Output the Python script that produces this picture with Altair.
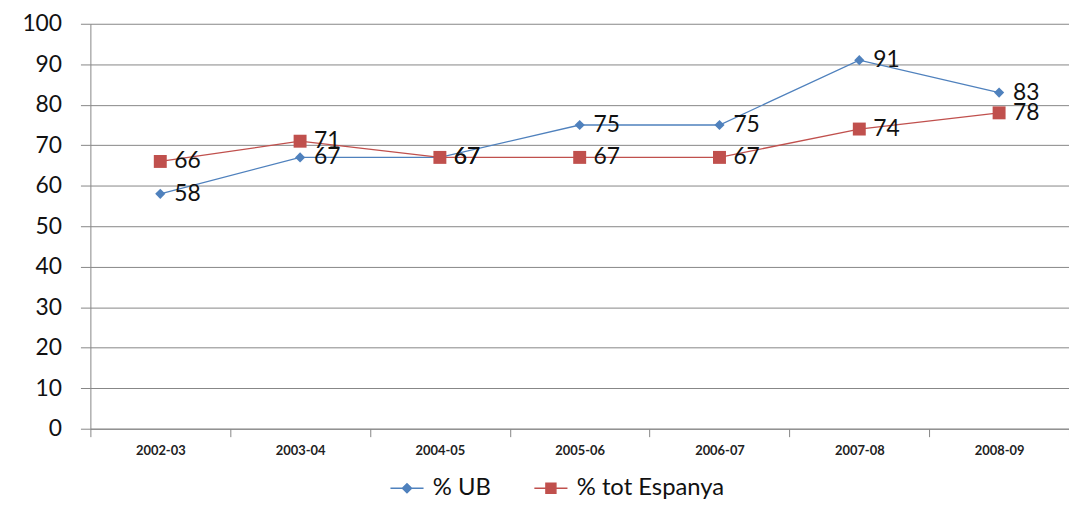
import altair as alt
import pandas as pd

years = ["2002-03", "2003-04", "2004-05", "2005-06", "2006-07", "2007-08", "2008-09"]
ub = [58, 67, 67, 75, 75, 91, 83]
esp = [66, 71, 67, 67, 67, 74, 78]
series_names = ["% UB", "% tot Espanya"]
colors = ["#4F81BD", "#C0504D"]
shapes = ["diamond", "square"]
marker_sizes = [105, 170]

df = pd.DataFrame({
    "year": years * 2,
    "value": ub + esp,
    "series": [series_names[0]] * len(years) + [series_names[1]] * len(years),
})

FONT = "Lato"
GRAY = "#868686"

x = alt.X(
    "year:N", sort=years,
    scale=alt.Scale(paddingInner=0, paddingOuter=0),
    axis=alt.Axis(title=None, labelAngle=0, tickBand="extent", grid=False,
                  labelFont=FONT, labelFontSize=13, labelFontWeight="bold",
                  labelColor="#222222", labelPadding=8, tickSize=8,
                  tickColor=GRAY, domainColor=GRAY),
)
y = alt.Y(
    "value:Q",
    scale=alt.Scale(domain=[0, 100], nice=False),
    axis=alt.Axis(title=None, values=list(range(0, 101, 10)), labelFont=FONT,
                  labelFontSize=23, labelColor="#111111", labelPadding=19,
                  tickSize=10, tickColor=GRAY, domainColor=GRAY,
                  gridColor=GRAY, gridWidth=1),
)

legend_paths = [
    "M-2,0L-0.55,0M-0.55,0L0,-0.55L0.55,0L0,0.55ZM0.55,0L2,0",
    "M-2,0L-0.6,0M-0.6,-0.6L0.6,-0.6L0.6,0.6L-0.6,0.6ZM0.6,0L2,0",
]
leg = alt.Legend(
    title=None, orient="none", legendX=307, legendY=456, direction="horizontal",
    symbolSize=278, symbolStrokeWidth=1.5, labelFont=FONT, labelFontSize=24,
    labelColor="#111111", labelOffset=14, columnPadding=40,
)

base = alt.Chart(df)
layers = []
for name, col in zip(series_names, colors):
    sub = base.transform_filter(alt.datum.series == name)
    layers.append(sub.mark_line(strokeWidth=1.3, color=col).encode(x=x, y=y))
for name, col, shp, sz in zip(series_names, colors, shapes, marker_sizes):
    sub = base.transform_filter(alt.datum.series == name)
    layers.append(sub.mark_point(filled=True, size=sz, opacity=1, color=col, shape=shp).encode(x=x, y=y))

labels = base.mark_text(align="left", baseline="middle", dx=14, fontSize=23,
                        font=FONT, color="#111111").encode(x=x, y=y, text="value:Q")
layers.append(labels)

legend_layer = base.transform_filter("false").mark_point(filled=True, opacity=1).encode(
    x=x, y=y,
    fill=alt.Fill("series:N", scale=alt.Scale(domain=series_names, range=colors), legend=leg),
    stroke=alt.Stroke("series:N", scale=alt.Scale(domain=series_names, range=colors), legend=leg),
    shape=alt.Shape("series:N", scale=alt.Scale(domain=series_names, range=legend_paths), legend=leg),
)
layers.append(legend_layer)

chart = alt.layer(*layers).properties(
    width=986, height=408,
    autosize=alt.AutoSizeParams(type="none"),
    padding={"left": 83, "top": 14, "right": 0, "bottom": 77},
).configure_view(stroke=None)

chart.save("out.html", embed_options={"renderer": "svg", "actions": False})
